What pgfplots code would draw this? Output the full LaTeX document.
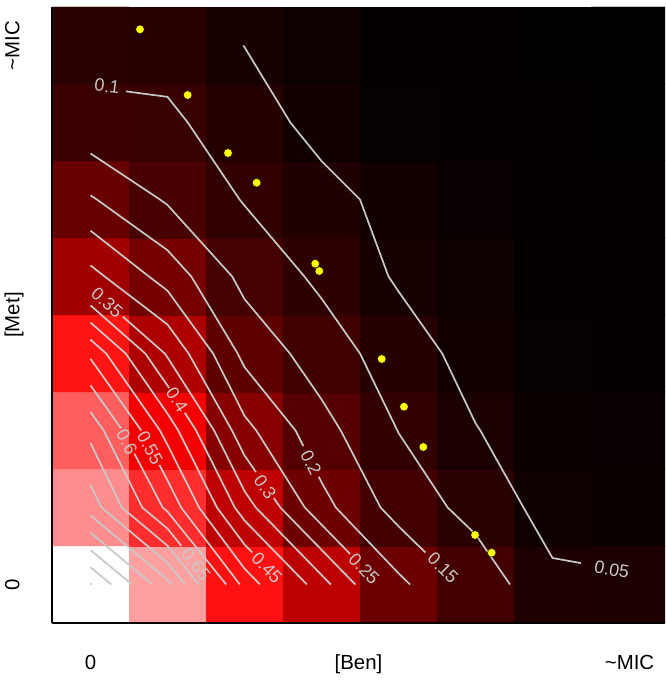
\documentclass[border=0pt]{standalone}
\usepackage{pgfplots}
\pgfplotsset{compat=1.18}
\usepackage{fontspec}
\setmainfont{Liberation Sans}
\definecolor{cgray}{RGB}{200,200,200}
\definecolor{dotyellow}{RGB}{255,255,0}
\newcommand{\axfont}{\fontsize{20.5}{24}\selectfont}
\newcommand{\lblfont}{\fontsize{18}{21}\selectfont}
\tikzset{
  cline/.style={draw=cgray, line width=1.7bp, line join=round},
  clabel/.style={font=\lblfont, text=cgray, inner sep=0pt},
}
\begin{document}
\begin{tikzpicture}
\begin{axis}[
  name=ax,
  scale only axis,
  width=613bp, height=616bp,
  xmin=-0.5, xmax=7.461, ymin=-0.5, ymax=7.5,
  axis x line*=bottom, axis y line*=left,
  axis line style={line width=2.2bp, black},
  axis on top,
  xtick={0,7}, ytick={0,7},
  xticklabels={0,\textasciitilde MIC},
  yticklabels={0,\textasciitilde MIC},
  major tick length=0pt,
  tick label style={font=\axfont, inner sep=0pt},
  xticklabel style={anchor=base, yshift=-46.5bp},
  yticklabel style={rotate=90, anchor=base, yshift=32.7bp},
  xlabel={[Ben]}, ylabel={[Met]},
  every axis x label/.style={at={(axis description cs:0.5,0)}, anchor=base, yshift=-46.5bp, font=\axfont, inner sep=0pt},
  every axis y label/.style={at={(axis description cs:0,0.5)}, rotate=90, anchor=base, yshift=32.7bp, font=\axfont, inner sep=0pt},
  colormap={rbw}{rgb255=(0,0,0) rgb255=(255,0,0) rgb255=(255,255,255)},
  point meta min=0, point meta max=1,
]
\addplot[matrix plot*, mesh/cols=8, point meta=explicit] table[meta=z] {
x y z
0 0 1.000
1 0 0.814
2 0 0.533
3 0 0.369
4 0 0.212
5 0 0.132
6 0 0.0605
7 0 0.056
0 1 0.777
1 1 0.588
2 1 0.373
3 1 0.216
4 1 0.130
5 1 0.083
6 1 0.030
7 1 0.020
0 2 0.685
1 2 0.480
2 2 0.265
3 2 0.167
4 2 0.099
5 2 0.052
6 2 0.020
7 2 0.016
0 3 0.540
1 3 0.343
2 3 0.186
3 3 0.125
4 3 0.075
5 3 0.031
6 3 0.014
7 3 0.010
0 4 0.316
1 4 0.229
2 4 0.135
3 4 0.090
4 4 0.044
5 4 0.024
6 4 0.010
7 4 0.010
0 5 0.205
1 5 0.144
2 5 0.097
3 5 0.065
4 5 0.035
5 5 0.016
6 5 0.010
7 5 0.008
0 6 0.113
1 6 0.110
2 6 0.072
3 6 0.035
4 6 0.012
5 6 0.010
6 6 0.008
7 6 0.006
0 7 0.085
1 7 0.080
2 7 0.0495
3 7 0.024
4 7 0.010
5 7 0.008
6 7 0.006
7 7 0.005
};
% contour 0.05
\addplot[cline, no marks] coordinates {(1.984,7) (2,6.978) (2.595,6) (3,5.5) (3.5,5) (3.870,4) (4,3.806) (4.568,3) (5,2.095) (5.0625,2) (5.623,1) (6,0.344) (6.370,0.278)};
\node[clabel, rotate=-10] at (axis cs:6.77,0.195) {0.05};
% contour 0.1
\addplot[cline, no marks] coordinates {(0.461,6.404) (1,6.333) (1.263,6) (1.936,5) (2,4.921) (2.778,4) (3,3.714) (3.5,3) (3.985,2) (4,1.968) (4.638,1) (5,0.653) (5.448,0)};
\node[clabel, rotate=-7] at (axis cs:0.215,6.47) {0.1};
% contour 0.15
\addplot[cline, no marks] coordinates {(0,5.598) (0.902,5) (1,4.929) (1.840,4) (2,3.706) (2.590,3) (3,2.405) (3.25,2) (3.767,1) (4,0.756) (4.349,0.416)};
\node[clabel, rotate=-45] at (axis cs:4.578,0.215) {0.15};
% contour 0.2
\addplot[cline, no marks] coordinates {(0,5.054) (0.082,5) (1,4.341) (1.309,4) (1.911,3) (2,2.823) (2.663,2) (2.764,1.798)};
\addplot[cline, no marks] coordinates {(2.963,1.401) (3,1.327) (3.186,1) (4,0.146) (4.15,0)};
\node[clabel, rotate=-63] at (axis cs:2.864,1.58) {0.2};
% contour 0.25
\addplot[cline, no marks] coordinates {(0,4.595) (0.759,4) (1,3.816) (1.592,3) (2,2.190) (2.153,2) (2.783,1) (3,0.778) (3.371,0.397)};
\node[clabel, rotate=-46] at (axis cs:3.552,0.205) {0.25};
% contour 0.3
\addplot[cline, no marks] coordinates {(0,4.144) (0.184,4) (1,3.377) (1.274,3) (1.837,2) (2,1.676) (2.149,1.460)};
\addplot[cline, no marks] coordinates {(2.381,1.122) (2.465,1) (3,0.451) (3.439,0)};
\node[clabel, rotate=-55] at (axis cs:2.266,1.27) {0.3};
% contour 0.35
\addplot[cline, no marks] coordinates {(0.420,3.479) (0.964,3) (1,2.949) (1.605,2) (2,1.213) (2.146,1) (3,0.124) (3.121,0)};
\node[clabel, rotate=-41] at (axis cs:0.215,3.66) {0.35};
% contour 0.4
\addplot[cline, no marks] coordinates {(0,3.625) (0.711,3) (1,2.584) (1.020,2.553)};
\addplot[cline, no marks] coordinates {(1.225,2.230) (1.372,2) (1.874,1) (2,0.831) (2.811,0)};
\node[clabel, rotate=-57] at (axis cs:1.123,2.40) {0.4};
% contour 0.45
\addplot[cline, no marks] coordinates {(0,3.402) (0.457,3) (1,2.219) (1.140,2) (1.642,1) (2,0.519) (2.100,0.416)};
\node[clabel, rotate=-46] at (axis cs:2.292,0.22) {0.45};
% contour 0.5
\addplot[cline, no marks] coordinates {(0,3.179) (0.203,3) (0.902,2) (1,1.815) (1.409,1) (2,0.206) (2.201,0)};
% contour 0.55
\addplot[cline, no marks] coordinates {(0,2.931) (0.659,2)};
\addplot[cline, no marks] coordinates {(0.895,1.552) (1,1.352) (1.177,1) (1.940,0)};
\node[clabel, rotate=-62] at (axis cs:0.774,1.77) {0.55};
% contour 0.6
\addplot[cline, no marks] coordinates {(0,2.586) (0.395,2.03)};
\addplot[cline, no marks] coordinates {(0.570,1.70) (0.937,1) (1,0.947) (1.762,0)};
\node[clabel, rotate=-62] at (axis cs:0.474,1.85) {0.6};
% contour 0.65
\addplot[cline, no marks] coordinates {(0,2.241) (0.171,2) (0.672,1) (1,0.726) (1.180,0.502)};
\node[clabel, rotate=-51] at (axis cs:1.37,0.26) {0.65};
% contours 0.7 - 1.0
\addplot[cline, no marks] coordinates {(0,1.837) (0.407,1) (1,0.504) (1.406,0)};
\addplot[cline, no marks] coordinates {(0,1.293) (0.143,1) (1,0.283) (1.228,0)};
\addplot[cline, no marks] coordinates {(0,0.897) (1,0.062) (1.050,0)};
\addplot[cline, no marks] coordinates {(0,0.673) (0.806,0)};
\addplot[cline, no marks] coordinates {(0,0.448) (0.538,0)};
\addplot[cline, no marks] coordinates {(0,0.224) (0.269,0)};
\addplot[cline, no marks] coordinates {(0,0.015) (0.015,0)};
% yellow points
\addplot[only marks, mark=*, mark size=4.3bp, mark options={draw=none, fill=dotyellow}] coordinates {
(0.643,7.210) (1.262,6.357) (1.786,5.604) (2.158,5.218) (2.919,4.166) (2.971,4.071)
(3.782,2.929) (4.071,2.309) (4.322,1.786) (4.994,0.643) (5.210,0.413)};
\end{axis}
\pgfresetboundingbox
\path[use as bounding box] ([shift={(-52bp,-61bp)}]ax.south west) rectangle ([shift={(0bp,7bp)}]ax.north east);
\end{tikzpicture}
\end{document}
